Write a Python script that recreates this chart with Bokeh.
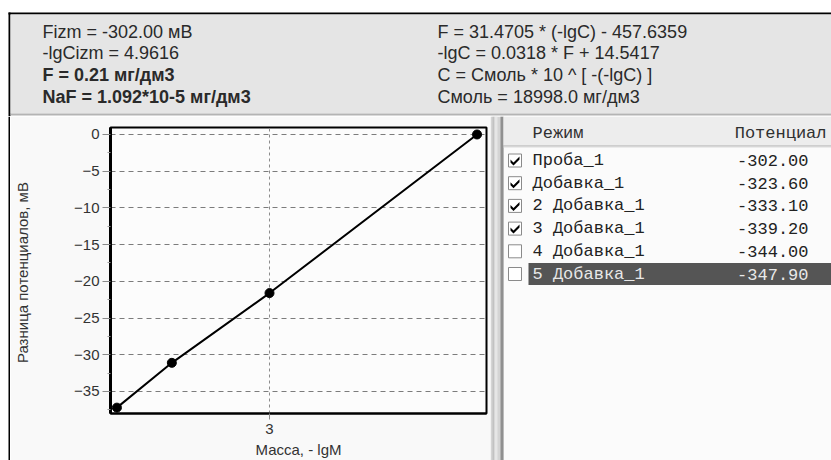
from bokeh.core.properties import value
from bokeh.embed import file_html
from bokeh.layouts import column, row
from bokeh.models import FixedTicker, Range1d
from bokeh.plotting import figure
from bokeh.resources import INLINE

# ---- measurement table -------------------------------------------------
modes = ["Проба_1", "Добавка_1", "2 Добавка_1", "3 Добавка_1", "4 Добавка_1", "5 Добавка_1"]
potentials = [-302.00, -323.60, -333.10, -339.20, -344.00, -347.90]
used = [True, True, True, True, False, False]
selected_row = 5

# -lgM of the rows that take part in the calibration (same order as above)
mass_lg = [3.68, 3.00, 2.68, 2.50]

# ---- axis ticks ---------------------------------------------------------
x_ticks = [3]
y_ticks = [0, -5, -10, -15, -20, -25, -30, -35]
y_minor = [-2.5, -7.5, -12.5, -17.5, -22.5, -27.5, -32.5, -37.5]

# ---- result panel -------------------------------------------------------
info_left = ["Fizm = -302.00 мВ", "-lgCizm = 4.9616", "F = 0.21 мг/дм3", "NaF = 1.092*10-5 мг/дм3"]
info_left_bold = [False, False, True, True]
info_right = ["F = 31.4705 * (-lgC) - 457.6359", "-lgC = 0.0318 * F + 14.5417",
              "C = Смоль * 10 ^ [ -(-lgC) ]", "Смоль = 18998.0 мг/дм3"]

# potential difference of each used row against the sample
diff = [pt - potentials[0] for pt, u in zip(potentials, used) if u]

W, H = 831, 460
TOP_H = 116            # height of the result panel
LEFT_W = 10            # window edge strip
CHART_W = 480
TABLE_W = W - LEFT_W - CHART_W
BODY_H = H - TOP_H


def free_frame(f):
    # keep each figure's frame independent of its neighbours in the row
    if "frame_align" in f.properties():
        f.frame_align = False
    return f


def pixel_fig(w, h, bg):
    """Figure whose data units are pixels, origin top-left."""
    f = figure(width=w, height=h, x_range=Range1d(0, w), y_range=Range1d(h, 0),
               output_backend="svg", toolbar_location=None, min_border=0,
               x_axis_location=None, y_axis_location=None)
    f.grid.visible = False
    f.outline_line_color = None
    f.background_fill_color = bg
    f.border_fill_color = bg
    return free_frame(f)


def rect(f, x0, y0, x1, y1, fill, line=None):
    f.quad(left=[x0], right=[x1], top=[y0], bottom=[y1],
           fill_color=fill, line_color=line, line_width=1)


def write(f, x, y, strings, font="Liberation Sans", size="18px", color="#2a2a2a",
          align="left", style="normal"):
    f.text(x=x, y=y, text=strings, text_font=value(font), text_font_size=value(size),
           text_color=color, text_align=align, text_baseline="middle",
           text_font_style=style)


# ---- result panel -------------------------------------------------------
top = pixel_fig(W, TOP_H, "white")
rect(top, 8, 12, W, 14, "black")
rect(top, 8, 12, 10, TOP_H, "black")
rect(top, 10, 14, W, 113, "#e5e5e5")
rect(top, 10, 113, W, 115, "#b4b4b4")
row_y = [31, 52.5, 74, 96]
for yy, s, b in zip(row_y, info_left, info_left_bold):
    write(top, [42], [yy], [s], style="bold" if b else "normal")
write(top, [437] * len(info_right), row_y, info_right)

# ---- window edge --------------------------------------------------------
edge = pixel_fig(LEFT_W, BODY_H, "white")
rect(edge, 8, 0, 10, BODY_H, "black")

# ---- calibration chart --------------------------------------------------
FL, FR, FT, FB = 100, 476, 11, 297   # frame edges inside the chart figure
p = figure(width=CHART_W, height=BODY_H, output_backend="svg", toolbar_location=None,
           x_range=Range1d(2.479, 3.711), y_range=Range1d(-38.0, 0.95),
           min_border_left=FL, min_border_right=CHART_W - FR,
           min_border_top=FT, min_border_bottom=BODY_H - FB,
           x_axis_label="Масса, - lgM", y_axis_label="Разница потенциалов,  мВ")
free_frame(p)
p.border_fill_color = "#f9f9f9"
p.background_fill_color = "#fcfcfc"
p.outline_line_color = "black"
p.outline_line_width = 2

p.line(mass_lg, diff, line_color="black", line_width=2)
p.scatter(mass_lg, diff, size=9, color="black")

p.xaxis.ticker = FixedTicker(ticks=x_ticks)
p.yaxis.ticker = FixedTicker(ticks=y_ticks, minor_ticks=y_minor)
for ax in (p.xaxis[0], p.yaxis[0]):
    ax.axis_line_color = "black"
    ax.major_tick_in = 0
    ax.minor_tick_in = 0
    ax.major_tick_line_color = "#8a8a8a"
    ax.minor_tick_line_color = "#9a9a9a"
    ax.major_label_text_font = "Liberation Sans"
    ax.major_label_text_font_size = "15px"
    ax.major_label_text_color = "#333333"
    ax.axis_label_text_font = "Liberation Sans"
    ax.axis_label_text_font_size = "15px"
    ax.axis_label_text_font_style = "normal"
    ax.axis_label_text_color = "#333333"
p.yaxis.axis_line_width = 3
p.xaxis.axis_line_width = 2
p.yaxis.major_tick_out = 8
p.yaxis.minor_tick_out = 3
p.yaxis.major_label_standoff = 3
p.yaxis.axis_label_standoff = 40
p.xaxis.major_tick_out = 6
p.xaxis.minor_tick_out = 0
p.xaxis.major_label_standoff = 4
p.xaxis.axis_label_standoff = 4

p.xgrid.grid_line_color = "#8c8c8c"
p.xgrid.grid_line_dash = "3 3"
p.ygrid.grid_line_color = "#7c7c7c"
p.ygrid.grid_line_dash = "5 4"

# ---- table of measurements ----------------------------------------------
MONO = "Liberation Mono"
tab = pixel_fig(TABLE_W, BODY_H, "#fbfbfb")
rect(tab, 0, 0, 13, BODY_H, "#d4d4d4")
rect(tab, 2, 0, 4, BODY_H, "#c2c2c2")
rect(tab, 4, 0, 7, BODY_H, "#e6e6e6")
rect(tab, 10, 0, 13, BODY_H, "#909090")
rect(tab, 13, 0, TABLE_W, 29, "#ededed")
rect(tab, 13, 29, TABLE_W, 30, "#a8a8a8")
rect(tab, 13, 30, TABLE_W, 31, "#dcdcdc")
write(tab, [42], [17], ["Режим"], font=MONO, size="17px", color="#303030")
write(tab, [336], [17], ["Потенциал"], font=MONO, size="17px",
      color="#303030", align="right")

r0, step = 44, 22.7
for i, (m, pt, u) in enumerate(zip(modes, potentials, used)):
    cy = r0 + i * step
    fg = "#222222"
    if i == selected_row:
        rect(tab, 38, cy - 11, TABLE_W, cy + 11, "#555555")
        fg = "#e8e8e8"
    bx, by = 18, cy - 6.5
    rect(tab, bx, by, bx + 13, by + 13, "white", line="#8a8a8a")
    if u:
        tab.patch(x=[bx + v for v in (2.0, 5.0, 11.0, 11.0, 5.0, 2.0)],
                  y=[by + v for v in (5.5, 8.5, 2.5, 5.5, 11.5, 8.5)],
                  fill_color="black", line_color=None)
    write(tab, [42], [cy], [m], font=MONO, size="17px", color=fg)
    write(tab, [318], [cy], [f"{pt:.2f}"], font=MONO, size="17px",
          color=fg, align="right")

page = column(top, row(column(edge), column(p), column(tab), spacing=0), spacing=0)
open("out.html", "w").write(file_html(page, INLINE))
